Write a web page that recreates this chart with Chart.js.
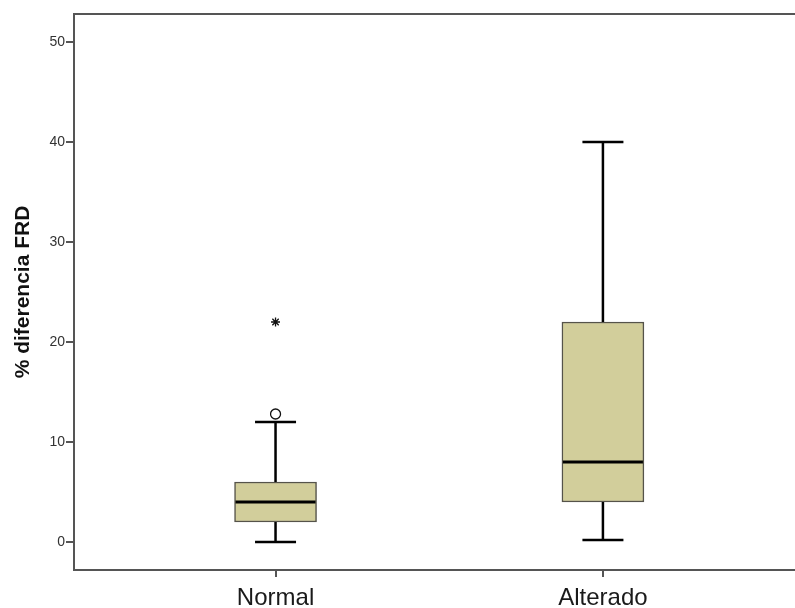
<!DOCTYPE html>
<html>
<head>
<meta charset="utf-8">
<script src="https://cdn.jsdelivr.net/npm/chart.js@4"></script>
<style>
  html, body { margin: 0; padding: 0; background: #fff; }
  #wrap { width: 795px; height: 608px; overflow: hidden; }
</style>
</head>
<body>
<div id="wrap"><canvas id="myChart" width="805" height="608"></canvas></div>
<script>
// boxplot values
const categories = ['Normal', 'Alterado'];
const whiskerLow = [0, 0.2];
const q1 = [2, 4];
const median = [4, 8];
const q3 = [6, 22];
const whiskerHigh = [12, 40];
const outliers = [12.8, null];   // circle
const extremes = [22, null];     // star
const yTicks = [0, 10, 20, 30, 40, 50];

const xs = categories.map((c, i) => i + 1);

// whiskers, caps, median lines and the top frame line
const boxExtras = {
    id: 'boxExtras',
    afterDatasetsDraw(chart) {
        const ctx = chart.ctx;
        const x = chart.scales.x, y = chart.scales.y;
        ctx.save();
        ctx.strokeStyle = '#000';
        ctx.lineCap = 'butt';
        xs.forEach((v, i) => {
            const cx = x.getPixelForValue(v);
            ctx.lineWidth = 2.5;
            ctx.beginPath();
            ctx.moveTo(cx, y.getPixelForValue(q3[i]));
            ctx.lineTo(cx, y.getPixelForValue(whiskerHigh[i]));
            ctx.moveTo(cx, y.getPixelForValue(q1[i]));
            ctx.lineTo(cx, y.getPixelForValue(whiskerLow[i]));
            const hw = 20.5;
            [whiskerHigh[i], whiskerLow[i]].forEach(w => {
                const py = y.getPixelForValue(w);
                ctx.moveTo(cx - hw, py);
                ctx.lineTo(cx + hw, py);
            });
            ctx.stroke();
            ctx.lineWidth = 3;
            ctx.beginPath();
            const my = y.getPixelForValue(median[i]);
            ctx.moveTo(cx - 40, my);
            ctx.lineTo(cx + 40, my);
            ctx.stroke();
        });
        // top border
        const a = chart.chartArea;
        ctx.strokeStyle = '#555';
        ctx.lineWidth = 2;
        ctx.beginPath();
        ctx.moveTo(a.left - 1, a.top);
        ctx.lineTo(a.right + 2, a.top);
        ctx.stroke();
        ctx.restore();
    }
};

new Chart(document.getElementById('myChart').getContext('2d'), {
    type: 'bar',
    data: {
        datasets: [
            {
                type: 'bar',
                data: xs.map((v, i) => ({ x: v, y: [q1[i], q3[i]] })),
                backgroundColor: '#d2ce9b',
                borderColor: '#55534a',
                borderWidth: 1.5,
                borderSkipped: false,
                barThickness: 82,
                order: 2
            },
            {
                type: 'scatter',
                data: xs.map((v, i) => ({ x: v, y: outliers[i] })).filter(p => p.y !== null),
                pointStyle: 'circle',
                pointRadius: 5,
                backgroundColor: '#fff',
                borderColor: '#111',
                borderWidth: 1.3,
                order: 1
            },
            {
                type: 'scatter',
                data: xs.map((v, i) => ({ x: v, y: extremes[i] })).filter(p => p.y !== null),
                pointStyle: 'star',
                pointRadius: 4.5,
                borderColor: '#111',
                borderWidth: 1.3,
                order: 1
            }
        ]
    },
    options: {
        responsive: false,
        animation: false,
        layout: { padding: { top: 14, left: 0, right: 0, bottom: 0 } },
        plugins: {
            legend: { display: false },
            tooltip: { enabled: false }
        },
        scales: {
            x: {
                type: 'linear',
                min: 0.3844,
                max: 2.598,
                offset: false,
                afterBuildTicks: s => { s.ticks = xs.map(v => ({ value: v })); },
                afterFit: s => { s.height = 38; },
                grid: { display: true, offset: false, drawOnChartArea: false, drawTicks: true, tickLength: 7, color: '#555', lineWidth: 2 },
                border: { display: true, color: '#555', width: 2 },
                ticks: {
                    callback: v => categories[v - 1],
                    font: { family: 'Arial, "Liberation Sans"', size: 24 },
                    color: '#1a1a1a',
                    padding: 7,
                    maxRotation: 0
                }
            },
            y: {
                min: -2.8,
                max: 52.8,
                afterBuildTicks: s => { s.ticks = yTicks.map(v => ({ value: v })); },
                afterFit: s => { s.width = 74; },
                grid: { display: true, drawOnChartArea: false, drawTicks: true, tickLength: 8, color: '#555', lineWidth: 2 },
                border: { display: true, color: '#555', width: 2 },
                ticks: {
                    font: { family: 'Arial, "Liberation Sans"', size: 14 },
                    color: '#333',
                    padding: 1
                },
                title: {
                    display: true,
                    text: '% diferencia FRD',
                    font: { family: 'Arial, "Liberation Sans"', size: 21, weight: 'bold' },
                    color: '#111',
                    padding: { top: 11, bottom: 0 }
                }
            }
        }
    },
    plugins: [boxExtras]
});
</script>
</body>
</html>
